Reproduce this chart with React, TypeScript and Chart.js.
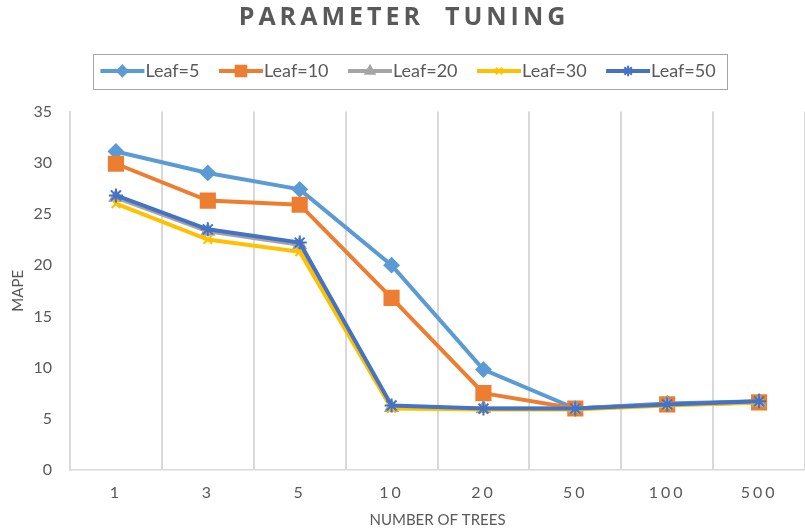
import React, { useEffect, useRef } from 'react';
import { Chart, registerables } from 'chart.js';
import { drawPoint } from 'chart.js/helpers';

Chart.register(...registerables);

const categories = ['1', '3', '5', '10', '20', '50', '100', '500'];
const leaf5 = [31.1, 29.0, 27.4, 20.0, 9.8, 6.0, 6.5, 6.7];
const leaf10 = [29.9, 26.3, 25.9, 16.8, 7.5, 6.0, 6.4, 6.6];
const leaf20 = [26.6, 23.3, 22.0, 6.1, 6.0, 6.0, 6.4, 6.6];
const leaf30 = [26.0, 22.5, 21.3, 6.0, 5.9, 5.9, 6.3, 6.6];
const leaf50 = [26.8, 23.5, 22.2, 6.3, 6.0, 6.0, 6.4, 6.7];
const seriesNames = ['Leaf=5', 'Leaf=10', 'Leaf=20', 'Leaf=30', 'Leaf=50'];
const seriesColors = ['#5B9BD5', '#ED7D31', '#A5A5A5', '#FFC000', '#4472C4'];
const seriesMarkers = ['rectRot', 'rect', 'triangle', 'crossRot', 'star'];
const markerRadius = [7, 10, 7, 6, 7];
const yMin = 0;
const yMax = 35;
const yStep = 5;
const titleText = 'PARAMETER  TUNING';
const xTitle = 'NUMBER OF TREES';
const yTitle = 'MAPE';

const TEXT = '#595959';
const GRID = '#D9D9D9';

const tweaks = {
  id: 'tweaks',
  beforeLayout(chart: any) {
    const lg = chart.legend;
    if (lg && !lg._patched) {
      const f = lg.fit;
      lg.fit = function () {
        f.call(this);
        this.height += 21.5;
      };
      lg._patched = true;
    }
  },
  afterLayout(chart: any) {
    const lg = chart.legend;
    if (lg) {
      lg.left += 4;
      lg.right += 4;
    }
    const t = chart.titleBlock;
    if (t && !t._patched) {
      const d = t.draw;
      t.draw = function () {
        const ctx = this.ctx;
        ctx.save();
        (ctx as any).letterSpacing = '4px';
        d.call(this);
        ctx.restore();
      };
      t._patched = true;
    }
    const xs = chart.scales.x;
    if (xs && !xs._patched) {
      const dl = xs.drawLabels;
      xs.drawLabels = function (a: any) {
        const ctx = this.ctx;
        ctx.save();
        (ctx as any).letterSpacing = '3px';
        dl.call(this, a);
        ctx.restore();
      };
      xs._patched = true;
    }
  },
  afterDraw(chart: any) {
    const lg = chart.legend;
    if (!lg || !lg.legendHitBoxes || !lg.legendHitBoxes.length) return;
    const ctx = chart.ctx;
    const hbs = lg.legendHitBoxes;
    const items = lg.legendItems;
    ctx.save();
    hbs.forEach((hb: any, i: number) => {
      const di = items[i].datasetIndex;
      const color = seriesColors[di];
      const y = hb.top + hb.height / 2;
      ctx.strokeStyle = color;
      ctx.fillStyle = color;
      ctx.lineWidth = 4;
      ctx.lineCap = 'butt';
      ctx.beginPath();
      ctx.moveTo(hb.left, y);
      ctx.lineTo(hb.left + 44, y);
      ctx.stroke();
      ctx.lineWidth = 2;
      drawPoint(ctx, { pointStyle: seriesMarkers[di], rotation: 0, radius: markerRadius[di] * 0.75, borderWidth: 2 } as any, hb.left + 22, y);
    });
    const first = hbs[0];
    const last = hbs[hbs.length - 1];
    const cy = first.top + first.height / 2;
    ctx.strokeStyle = '#A6A6A6';
    ctx.lineWidth = 1;
    ctx.strokeRect(Math.round(first.left - 7) + 0.5, Math.round(cy - 17.5) + 0.5, Math.round(last.left + last.width + 12 - (first.left - 7)), 35);
    ctx.restore();
  },
};

export default function App() {
  const ref = useRef<HTMLCanvasElement>(null);
  useEffect(() => {
    if (!ref.current) return;
    const sets = [leaf5, leaf10, leaf20, leaf30, leaf50];
    const chart = new Chart(ref.current, {
      type: 'line',
      data: {
        labels: categories,
        datasets: sets.map((d, i) => ({
          label: seriesNames[i],
          data: d,
          borderColor: seriesColors[i],
          backgroundColor: seriesColors[i],
          borderWidth: 4,
          pointStyle: seriesMarkers[i] as any,
          pointRadius: markerRadius[i],
          pointBorderWidth: 2,
          pointBackgroundColor: seriesColors[i],
          pointBorderColor: seriesColors[i],
          tension: 0,
          fill: false,
          order: sets.length - 1 - i,
        })),
      },
      options: {
        responsive: false,
        animation: false,
        devicePixelRatio: 1,
        layout: { autoPadding: false, padding: { left: 0, right: -3, top: 0, bottom: 0 } },
        plugins: {
          tooltip: { enabled: false },
          title: {
            display: true,
            text: titleText,
            color: TEXT,
            font: { family: 'Open Sans', size: 25, weight: 'bold' },
            padding: { top: 3, bottom: 9.5 },
          },
          legend: {
            display: true,
            position: 'top',
            labels: {
              color: TEXT,
              font: { family: 'Lato', size: 18 },
              boxWidth: 36,
              boxHeight: 4,
              padding: 19.5,
              sort: (a: any, b: any) => a.datasetIndex - b.datasetIndex,
              generateLabels: (c: any) => {
                const base = Chart.defaults.plugins.legend.labels.generateLabels(c);
                return base.map((it: any) => ({
                  ...it,
                  fillStyle: 'rgba(0,0,0,0)',
                  strokeStyle: 'rgba(0,0,0,0)',
                  lineWidth: 0,
                }));
              },
            },
          },
        },
        scales: {
          x: {
            type: 'category',
            offset: true,
            grid: { display: true, color: GRID, lineWidth: 2, drawTicks: false, offset: true },
            border: { display: true, color: GRID, width: 1.5 },
            ticks: { color: TEXT, font: { family: 'Lato', size: 16 }, padding: 13, maxRotation: 0, autoSkip: false },
            title: {
              display: true,
              text: xTitle,
              color: TEXT,
              font: { family: 'Lato', size: 15 },
              padding: { top: 4, bottom: 3 },
            },
            afterFit: (s: any) => {
              s.height = 62;
              s.paddingLeft = 0;
              s.paddingRight = -3;
            },
          },
          y: {
            min: yMin,
            max: yMax,
            grid: { display: false, drawTicks: false },
            border: { display: true, color: GRID, width: 1.5 },
            ticks: { stepSize: yStep, color: TEXT, font: { family: 'Lato', size: 16 }, padding: 18 },
            title: {
              display: true,
              text: yTitle,
              color: TEXT,
              font: { family: 'Lato', size: 15 },
              padding: { top: 9, bottom: 4 },
            },
            afterFit: (s: any) => {
              s.width = 70;
            },
          },
        },
      },
      plugins: [tweaks],
    });
    return () => chart.destroy();
  }, []);
  return (
    <div style={{ position: 'fixed', left: 0, top: 0, width: 805, height: 532, background: '#fff' }}>
      <canvas ref={ref} width={805} height={532} />
    </div>
  );
}
